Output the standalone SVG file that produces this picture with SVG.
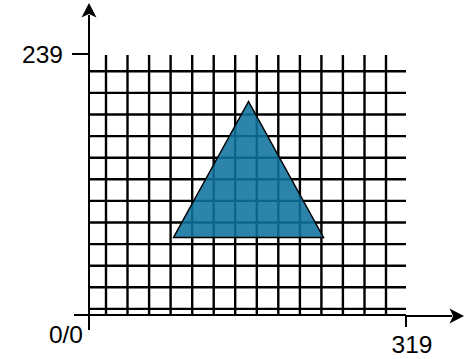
<svg xmlns="http://www.w3.org/2000/svg" width="469" height="359" viewBox="0 0 469 359">
<style>
.grid line{stroke:#000;stroke-width:2.4}
.axis{stroke:#000;stroke-width:2;fill:none}
.head{fill:#000;stroke:none}
.lbl{font-family:"Liberation Sans",Arial,sans-serif;font-size:24.5px;fill:#000}
</style>
<rect width="469" height="359" fill="#fff"/>
<g id="grid" class="grid">
<line x1="106" y1="55" x2="106" y2="315"/>
<line x1="127.5" y1="55" x2="127.5" y2="315"/>
<line x1="149.1" y1="55" x2="149.1" y2="315"/>
<line x1="170.6" y1="55" x2="170.6" y2="315"/>
<line x1="192.2" y1="55" x2="192.2" y2="315"/>
<line x1="213.7" y1="55" x2="213.7" y2="315"/>
<line x1="235.2" y1="55" x2="235.2" y2="315"/>
<line x1="256.8" y1="55" x2="256.8" y2="315"/>
<line x1="278.3" y1="55" x2="278.3" y2="315"/>
<line x1="299.9" y1="55" x2="299.9" y2="315"/>
<line x1="321.4" y1="55" x2="321.4" y2="315"/>
<line x1="342.9" y1="55" x2="342.9" y2="315"/>
<line x1="364.5" y1="55" x2="364.5" y2="315"/>
<line x1="386" y1="55" x2="386" y2="315"/>
<line x1="89" y1="71.3" x2="406" y2="71.3"/>
<line x1="89" y1="92.9" x2="406" y2="92.9"/>
<line x1="89" y1="114.5" x2="406" y2="114.5"/>
<line x1="89" y1="136.1" x2="406" y2="136.1"/>
<line x1="89" y1="157.7" x2="406" y2="157.7"/>
<line x1="89" y1="179.3" x2="406" y2="179.3"/>
<line x1="89" y1="200.9" x2="406" y2="200.9"/>
<line x1="89" y1="222.5" x2="406" y2="222.5"/>
<line x1="89" y1="244.1" x2="406" y2="244.1"/>
<line x1="89" y1="265.7" x2="406" y2="265.7"/>
<line x1="89" y1="287.3" x2="406" y2="287.3"/>
<line x1="89" y1="308.9" x2="406" y2="308.9"/>
</g>
<g id="triangle">
<polygon points="248.5,101.5 173.5,237.5 323.5,237.5" fill="#10739E" fill-opacity="0.88" stroke="#000" stroke-width="1.5" stroke-linejoin="miter"/>
</g>
<g id="connectors">
<path class="axis" d="M89,330 L89,15"/>
<path class="head" d="M89,3 L96.5,17.5 L89,14 L81.5,17.5 Z"/>
<path class="axis" d="M74,315 L406,315"/>
<path class="axis" d="M406,316 L452,316"/>
<path class="head" d="M464,316 L449.5,308.5 L453,316 L449.5,323.5 Z"/>
<path class="axis" d="M72,54 L89,54"/>
<path class="axis" d="M406,316 L406,327"/>
</g>
<g id="labels">
<text class="lbl" x="63" y="63" text-anchor="end">239</text>
<text class="lbl" x="83" y="343" text-anchor="end">0/0</text>
<text class="lbl" x="412" y="353" text-anchor="middle">319</text>
</g>
</svg>
